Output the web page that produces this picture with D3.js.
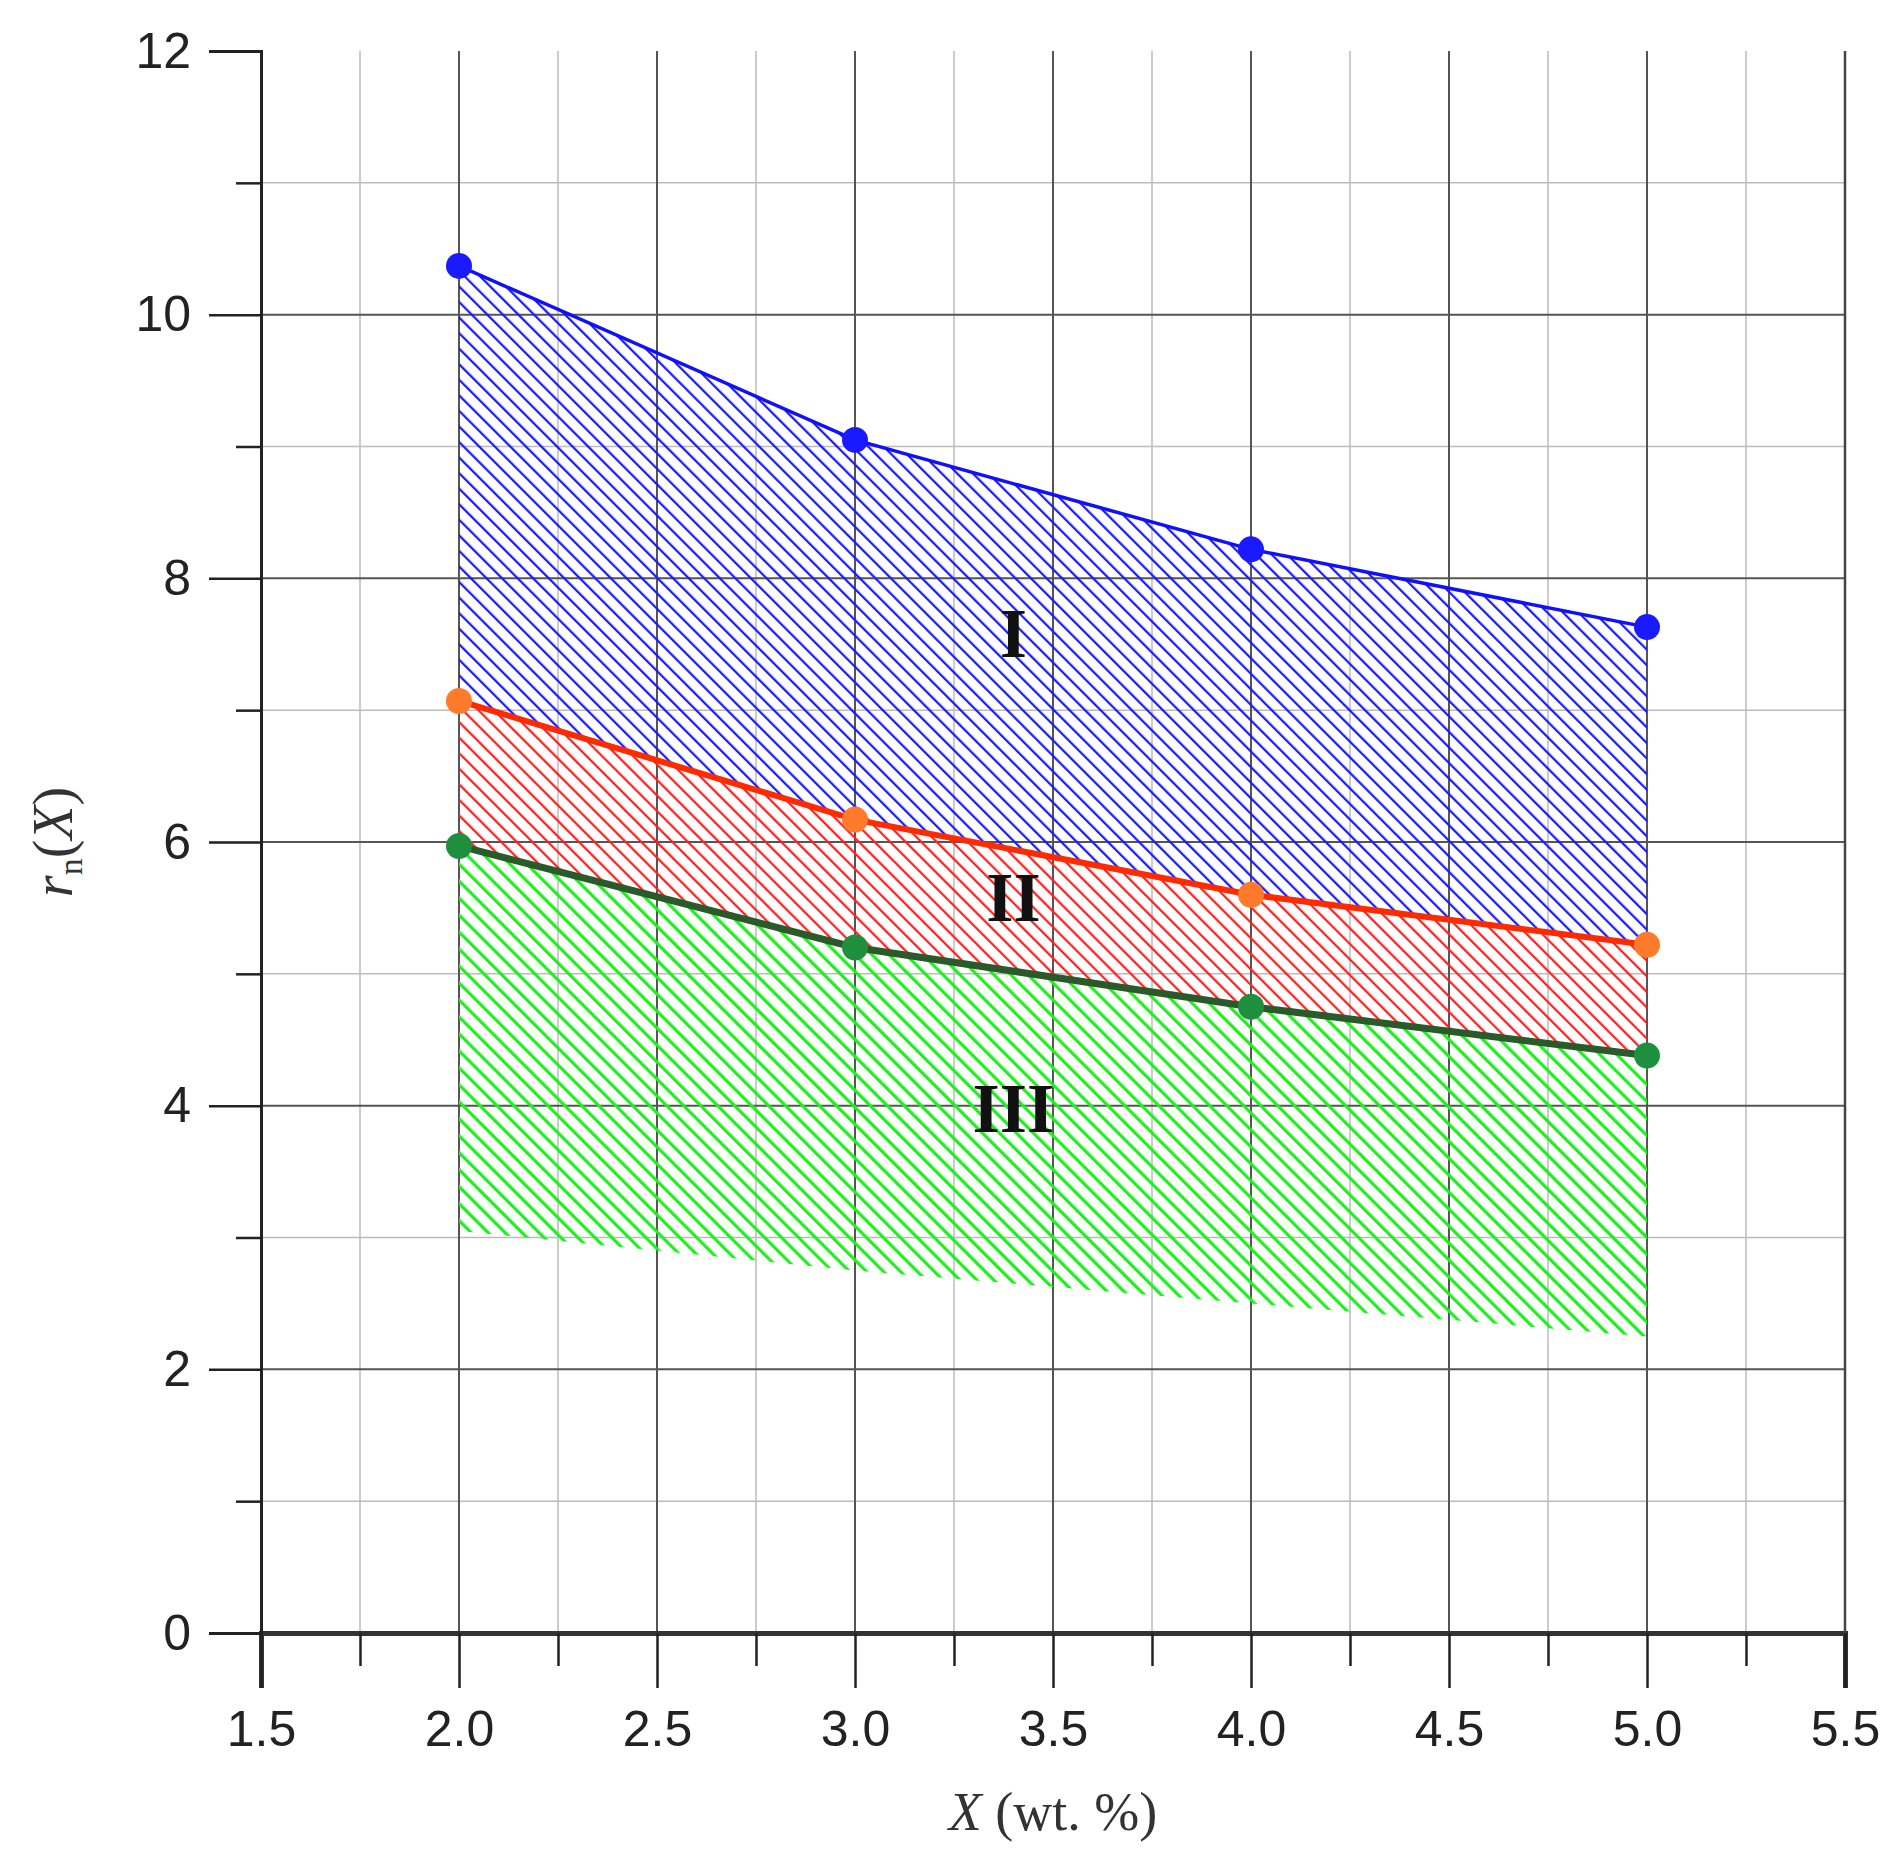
<!DOCTYPE html><html><head><meta charset="utf-8"><script src="https://cdn.jsdelivr.net/npm/d3@7"></script>
<style>body{margin:0;background:#fff}</style></head><body><svg id="c" width="1894" height="1874"></svg><script>
const xs=[2,3,4,5];
const blue=[10.37,9.05,8.22,7.63];
const orange=[7.07,6.17,5.6,5.22];
const green=[5.97,5.2,4.75,4.38];
const greenLow=[3.05,2.75,2.5,2.25];
const xTicks=[1.5,2,2.5,3,3.5,4,4.5,5,5.5];
const yTicks=[0,2,4,6,8,10,12];
const svg=d3.select("#c");
const x=d3.scaleLinear().domain([1.5,5.5]).range([261,1845]);
const y=d3.scaleLinear().domain([0,12]).range([1633,51]);
const defs=svg.append("defs");
function pat(id,col,sp,w){const p=defs.append("pattern").attr("id",id).attr("patternUnits","userSpaceOnUse").attr("width",sp).attr("height",sp).attr("patternTransform","rotate(-45)");
p.append("line").attr("x1",0).attr("y1",0).attr("x2",0).attr("y2",sp).attr("stroke",col).attr("stroke-width",w);}
pat("pb","#1a1aff",11,4.5);pat("pr","#ff2020",11,4.5);pat("pg","#22ee22",12,6.5);
for(let v=1.75;v<5.5;v+=0.5)svg.append("line").attr("x1",x(v)).attr("x2",x(v)).attr("y1",y(12)).attr("y2",y(0)).attr("stroke","#bbb").attr("stroke-width",1.5);
for(let v=1;v<12;v+=2)svg.append("line").attr("y1",y(v)).attr("y2",y(v)).attr("x1",x(1.5)).attr("x2",x(5.5)).attr("stroke","#bbb").attr("stroke-width",1.5);
xTicks.forEach(v=>svg.append("line").attr("x1",x(v)).attr("x2",x(v)).attr("y1",y(12)).attr("y2",y(0)).attr("stroke","#555").attr("stroke-width",2));
yTicks.forEach(v=>{if(v>0&&v<12)svg.append("line").attr("y1",y(v)).attr("y2",y(v)).attr("x1",x(1.5)).attr("x2",x(5.5)).attr("stroke","#555").attr("stroke-width",2)});
const area=(a,b)=>d3.area().x((d,i)=>x(xs[i])).y0((d,i)=>y(b[i])).y1((d,i)=>y(a[i]))(xs);
svg.append("path").attr("d",area(blue,orange)).attr("fill","url(#pb)");
svg.append("path").attr("d",area(orange,green)).attr("fill","url(#pr)");
svg.append("path").attr("d",area(green,greenLow)).attr("fill","url(#pg)");
svg.append("g").attr("transform",`translate(0,${y(0)})`).call(d3.axisBottom(x).tickValues(xTicks).tickFormat(d3.format(".1f")).tickSize(55).tickPadding(22))
 .call(g=>{g.select(".domain").attr("stroke","#333").attr("stroke-width",5);g.selectAll("line").attr("stroke","#222").attr("stroke-width",2.5);g.selectAll("text").attr("font-family","Liberation Sans").attr("font-size",50).attr("fill","#222")});
svg.append("g").attr("transform",`translate(0,${y(0)})`).call(d3.axisBottom(x).tickValues(d3.range(1.75,5.5,0.5)).tickFormat("").tickSize(33)).call(g=>{g.select(".domain").remove();g.selectAll("line").attr("stroke","#222").attr("stroke-width",2.5)});
svg.append("g").attr("transform",`translate(${x(1.5)},0)`).call(d3.axisLeft(y).tickValues(yTicks).tickSize(52).tickPadding(18))
 .call(g=>{g.select(".domain").attr("stroke","#222").attr("stroke-width",3);g.selectAll("line").attr("stroke","#222").attr("stroke-width",2.5);g.selectAll("text").attr("font-family","Liberation Sans").attr("font-size",50).attr("fill","#222")});
svg.append("g").attr("transform",`translate(${x(1.5)},0)`).call(d3.axisLeft(y).tickValues(d3.range(1,12,2)).tickFormat("").tickSize(25)).call(g=>{g.select(".domain").remove();g.selectAll("line").attr("stroke","#222").attr("stroke-width",2.5)});
svg.append("line").attr("x1",x(5.5)).attr("x2",x(5.5)).attr("y1",y(12)).attr("y2",y(0)).attr("stroke","#444").attr("stroke-width",2.5);
const ln=v=>d3.line().x((d,i)=>x(xs[i])).y((d,i)=>y(v[i]))(xs);
function series(v,lc,lw,mc){svg.append("path").attr("d",ln(v)).attr("fill","none").attr("stroke",lc).attr("stroke-width",lw);
 xs.forEach((d,i)=>svg.append("circle").attr("cx",x(d)).attr("cy",y(v[i])).attr("r",13).attr("fill",mc));}
series(blue,"#1010ff",3.5,"#1a1aff");
series(orange,"#ff2a00",6,"#ff7a2a");
series(green,"#2a5a2a",7,"#1e8f3c");
[["I",7.4],["II",5.4],["III",3.8]].forEach(([t,v])=>svg.append("text").attr("x",x(3.4)).attr("y",y(v)).attr("text-anchor","middle").attr("font-family","Liberation Serif").attr("font-weight","bold").attr("font-size",70).attr("fill","#111").text(t));
const xt=svg.append("text").attr("x",x(3.5)).attr("y",1830).attr("text-anchor","middle").attr("font-family","Liberation Serif").attr("font-size",54).attr("fill","#333");
xt.append("tspan").attr("font-style","italic").text("X");xt.append("tspan").text(" (wt. %)");
const yt=svg.append("text").attr("transform",`translate(72,${y(6)}) rotate(-90)`).attr("text-anchor","middle").attr("font-family","Liberation Serif").attr("font-size",56).attr("fill","#333");
yt.append("tspan").attr("font-style","italic").text("r");yt.append("tspan").attr("font-size",34).attr("dy",10).text("n");yt.append("tspan").attr("dy",-10).text("(");yt.append("tspan").attr("font-style","italic").text("X");yt.append("tspan").text(")");
</script></body></html>
